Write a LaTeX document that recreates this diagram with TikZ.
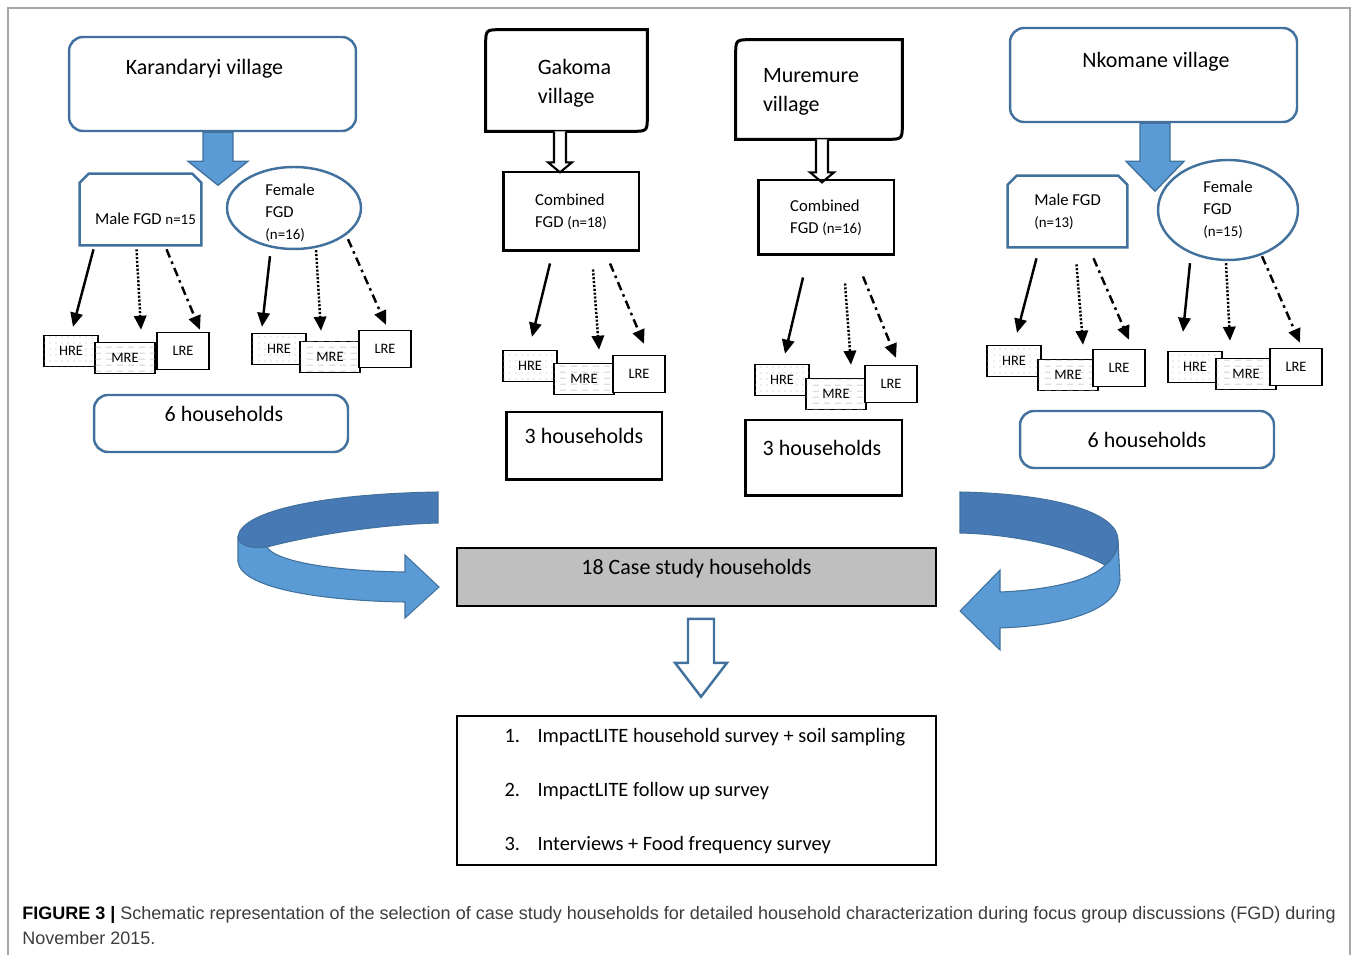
\documentclass[tikz,border=0pt]{standalone}
\usepackage{fontspec}
\setmainfont{Carlito}
\newfontfamily\capfont{Liberation Sans}
\usetikzlibrary{calc,arrows.meta,shapes.geometric,patterns.meta}

\definecolor{fgdblue}{RGB}{65,113,156}
\definecolor{arrowblue}{RGB}{91,155,213}
\definecolor{banddark}{RGB}{71,121,180}
\definecolor{casegray}{RGB}{191,191,191}
\definecolor{capgray}{RGB}{60,60,60}

\tikzdeclarepattern{
  name=hredots, type=uncolored,
  bounding box={(0pt,0pt) and (3.4pt,3.4pt)},
  tile size={(3.4pt,3.4pt)},
  code={\fill (1.7pt,1.7pt) circle (0.35pt);}
}
\tikzdeclarepattern{
  name=mredash, type=uncolored,
  bounding box={(0pt,0pt) and (6pt,3.6pt)},
  tile size={(6pt,3.6pt)},
  code={\draw[line width=0.4pt] (0.5pt,1.8pt) -- (4pt,1.8pt);}
}

\tikzset{
villbox/.style = { draw = fgdblue, line width = 1.4pt, rounded corners = 8pt },
blackbox/.style = { draw, line width = 1.7pt },
villtext/.style = { font = \fontsize{12.5}{16.4}\selectfont, align = left },
fgdtext/.style = { font = \fontsize{9.5}{12.5}\selectfont, align = left },
rebox/.style = { draw, line width = 0.8pt, fill = white, inner sep = 0pt,
                 font = \fontsize{8.2}{10}\selectfont },
hre/.style = { rebox, minimum width = 1.08cm, minimum height = 0.62cm,
               postaction = {pattern = hredots, pattern color = gray!60} },
mre/.style = { rebox, minimum width = 1.2cm, minimum height = 0.62cm,
               postaction = {pattern = mredash, pattern color = gray!70} },
lre/.style = { rebox, minimum width = 1.04cm, minimum height = 0.74cm },
hrearr/.style = { -{Triangle[width=7pt,length=8pt]}, line width = 1.4pt },
mrearr/.style = { hrearr, dash pattern = on 1.2pt off 1pt },
lrearr/.style = { hrearr, dash pattern = on 5pt off 2.5pt on 1.5pt off 2.5pt },
blockarr/.style = { draw = fgdblue, fill = arrowblue, line width = 0.8pt },
hollowarr/.style = { draw, fill = white, line width = 1.2pt },
bandd/.style = { draw = fgdblue, fill = banddark, line width = 0.6pt },
bandl/.style = { draw = fgdblue, fill = arrowblue, line width = 0.6pt }
}

\newcommand{\nsmall}{\fontsize{8.5}{10}\selectfont}

\begin{document}
\begin{tikzpicture}[x=0.02cm, y=-0.02cm]
\useasboundingbox (0,0) rectangle (1358,955);
\draw[gray!70, line width=0.6pt] (8,955) -- (8,8) -- (1350,8) -- (1350,955);

% villages
\node[villbox, minimum width=5.74cm, minimum height=1.88cm] (kv) at (212.5,84) {};
\node[villtext] (kvt) at ($(kv.north)+(-8,33)$) {Karandaryi village};
\node[minimum width=3.22cm, minimum height=2.02cm, inner sep=0] (gv) at (566.5,80.5) {};
\node[villtext] (gvt) at ($(gv.center)+(8,3)$) {Gakoma\\village};
\node[minimum width=3.32cm, minimum height=1.98cm, inner sep=0] (mv) at (819,89.5) {};
\node[villtext] (mvt) at ($(mv.center)+(-8,2)$) {Muremure\\village};
\node[villbox, minimum width=5.74cm, minimum height=1.88cm] (nv) at (1153.5,75) {};
\node[villtext] (nvt) at ($(nv.north)+(2.5,35)$) {Nkomane village};
\foreach \v in {gv,mv}
  \draw[blackbox] (\v.south west) -- ($(\v.north west)+(0,16)$) .. controls (\v.north west) .. ($(\v.north west)+(16,0)$)
    -- (\v.north east) -- ($(\v.south east)+(0,-16)$) .. controls (\v.south east) .. ($(\v.south east)+(-16,0)$) -- cycle;

% arrows out of the villages
\draw[blockarr] ($(kv.south)+(-9.5,0)$) -- ++(30,0) -- ++(0,29) -- ++(15,0) -- ++(-30,24) -- ++(-30,-24) -- ++(15,0) -- cycle;
\draw[blockarr] ($(nv.south)+(-13.5,0)$) -- ++(30,0) -- ++(0,38) -- ++(14,0) -- ++(-29,30) -- ++(-29,-30) -- ++(14,0) -- cycle;
\draw[hollowarr] ($(gv.south)+(-12.5,0)$) -- ++(0,31) -- ++(-6,0) -- ++(12,10) -- ++(12,-10) -- ++(-6,0) -- ++(0,-31);
\draw[hollowarr] ($(mv.south)+(-3,0)$) -- ++(0,33) -- ++(-6,0) -- ++(12,10) -- ++(12,-10) -- ++(-6,0) -- ++(0,-33);

% focus groups
\node[minimum width=2.42cm, minimum height=1.42cm, inner sep=0] (km) at (140.5,209.5) {};
\node[fgdtext] (kmt) at ($(km.center)+(5,9)$) {Male FGD {\nsmall n=15}};
\node[ellipse, draw=fgdblue, line width=1.4pt, minimum width=2.68cm, minimum height=1.64cm, inner sep=0] (kf) at (294,208) {};
\node[fgdtext] (kft) at ($(kf.center)+(-4,5)$) {Female\\FGD\\{\nsmall(n=16)}};
\node[blackbox, fgdtext, minimum width=2.72cm, minimum height=1.58cm] (gc) at (571,211.5) {Combined\\FGD {\nsmall(n=18)}};
\node[blackbox, fgdtext, minimum width=2.72cm, minimum height=1.5cm] (mc) at (826,217.5) {Combined\\FGD {\nsmall(n=16)}};
\node[fgdtext, minimum width=2.38cm, minimum height=1.42cm, inner sep=0] (nm) at (1067.5,211.5) {Male FGD\\{\nsmall(n=13)}};
\node[ellipse, draw=fgdblue, line width=1.4pt, fgdtext, minimum width=2.8cm, minimum height=2cm, inner sep=0] (nf) at (1228,210) {Female\\FGD\\{\nsmall(n=15)}};
\foreach \f in {km,nm}
  \draw[draw=fgdblue, line width=1.4pt] (\f.south west) -- ($(\f.north west)+(0,9)$) -- ($(\f.north west)+(9,0)$)
    -- ($(\f.north east)+(-9,0)$) -- ($(\f.north east)+(0,9)$) -- (\f.south east) -- cycle;

% resource endowment boxes
\foreach \g/\hx/\hy/\mx/\my/\lx/\ly in {k1/71/351/125/358/183/351, k2/279/349/330/357/385/349,
    g/530/366/584/379/639/374, m/782/380/836/394/891/384,
    n1/1014/361/1068/375/1119/368, n2/1195/367/1246/374/1296/367}{
  \node[hre] (\g h) at (\hx,\hy) {HRE};
  \node[mre] (\g m) at (\mx,\my) {MRE};
  \node[lre] (\g l) at (\lx,\ly) {LRE};
}

\draw[hrearr] ($(km.south)+(-47,4)$) -- ($(k1h.north)+(2,-8)$);
\draw[mrearr] ($(km.south)+(-4,4)$) -- ($(k1m.north)+(16,-12)$);
\draw[lrearr] ($(km.south)+(26,4)$) -- ($(k1l.north)+(17,-2)$);
\draw[hrearr] ($(kf.south)+(-24,6)$) -- ($(k2h.north)+(-17,-6)$);
\draw[mrearr] ($(kf.south)+(22,0)$) -- ($(k2m.north)+(-9,-10)$);
\draw[lrearr] ($(kf.south)+(54,-11)$) -- ($(k2l.north)+(1,-5)$);
\draw[hrearr] ($(gc.south)+(-21,11)$) -- ($(gh.north)+(2,-13)$);
\draw[mrearr] ($(gc.south)+(22,17)$) -- ($(gm.north)+(15,-13)$);
\draw[lrearr] ($(gc.south)+(39,11)$) -- ($(gl.north)+(5,-11)$);
\draw[hrearr] ($(mc.south)+(-23,21)$) -- ($(mh.north)+(3,-10)$);
\draw[mrearr] ($(mc.south)+(19,27)$) -- ($(mm.north)+(15,-13)$);
\draw[lrearr] ($(mc.south)+(37,20)$) -- ($(ml.north)+(5,-7)$);
\draw[hrearr] ($(nm.south)+(-31,11)$) -- ($(n1h.north)+(3,-12)$);
\draw[mrearr] ($(nm.south)+(9,17)$) -- ($(n1m.north)+(15,-14)$);
\draw[lrearr] ($(nm.south)+(26,11)$) -- ($(n1l.north)+(10,-9)$);
\draw[hrearr] ($(nf.south)+(-38,2)$) -- ($(n2h.north)+(-12,-19)$);
\draw[mrearr] ($(nf.south)+(-2,2)$) -- ($(n2m.north)+(-16,-17)$);
\draw[lrearr] ($(nf.south)+(34,-5)$) -- ($(n2l.north)+(4,-5)$);

% households
\node[villbox, minimum width=5.08cm, minimum height=1.14cm] (kh) at (221,423.5) {};
\node[villtext] (kht) at ($(kh.north)+(3,20)$) {6 households};
\node[blackbox, minimum width=3.12cm, minimum height=1.36cm] (ghh) at (584,446) {};
\node[villtext] (ght) at ($(ghh.north)+(0,25)$) {3 households};
\node[blackbox, minimum width=3.14cm, minimum height=1.52cm] (mhh) at (823.5,458) {};
\node[villtext] (mht) at ($(mhh.north)+(-1.5,29)$) {3 households};
\node[villbox, villtext, minimum width=5.08cm, minimum height=1.14cm] (nh) at (1147,439.5) {6 households};

% case study households
\node[draw, line width=0.9pt, fill=casegray, minimum width=9.58cm, minimum height=1.16cm] (cs) at (696.5,577) {};
\node[villtext] (cst) at ($(cs.north)+(0,21)$) {18 Case study households};
\draw[bandd] (438,492) .. controls (318,494) and (238,512) .. (238,538) .. controls (240,546) and (252,549) .. (267,547)
  .. controls (320,533) and (390,524) .. (438,523) -- cycle;
\draw[bandl] (238,538) -- (238,562) .. controls (242,590) and (330,601) .. (405,602) -- (405,618) -- (439,587) -- (405,555)
  -- (405,572) .. controls (330,571) and (275,561) .. (267,547) .. controls (252,549) and (240,546) .. (238,538) -- cycle;
\draw[bandd] (960,492) .. controls (1060,494) and (1118,514) .. (1118,540) .. controls (1118,552) and (1112,560) .. (1105,565)
  .. controls (1070,546) and (1010,534) .. (960,533) -- cycle;
\draw[bandl] (1118,540) -- (1120,580) .. controls (1116,612) and (1060,626) .. (1000,628) -- (1000,650) -- (960,611) -- (1000,570)
  -- (1000,592) .. controls (1050,590) and (1092,580) .. (1105,565) .. controls (1112,560) and (1118,552) .. (1118,540) -- cycle;

\draw[draw=fgdblue, fill=white, line width=1.4pt] ($(cs.south)+(-8.5,12)$) -- ++(26,0) -- ++(0,44) -- ++(13,0) -- ++(-26,34)
  -- ++(-26,-34) -- ++(13,0) -- cycle;

% activities
\node[draw, line width=1pt, minimum width=9.58cm, minimum height=2.98cm] (lb) at (696.5,790.5) {};
\foreach \i/\t in {1/ImpactLITE household survey + soil sampling, 2/ImpactLITE follow up survey,
    3/Interviews + Food frequency survey}
  \node[villtext, font=\fontsize{11.6}{14}\selectfont, anchor=west, inner sep=0] (item\i) at ($(lb.north west)+(48,{54*\i-32})$)
    {\makebox[0.66cm][l]{\i.}\t};

% caption
\node[anchor=base west, inner sep=0, text=capgray, font=\capfont\fontsize{10.25}{12}\selectfont] (cap1) at (22,919)
  {\textbf{\color{black}FIGURE 3 |} Schematic representation of the selection of case study households for detailed household characterization during focus group discussions (FGD) during};
\node[anchor=base west, inner sep=0, text=capgray, font=\capfont\fontsize{10.25}{12}\selectfont] (cap2) at (22,944)
  {November 2015.};
\end{tikzpicture}
\end{document}
